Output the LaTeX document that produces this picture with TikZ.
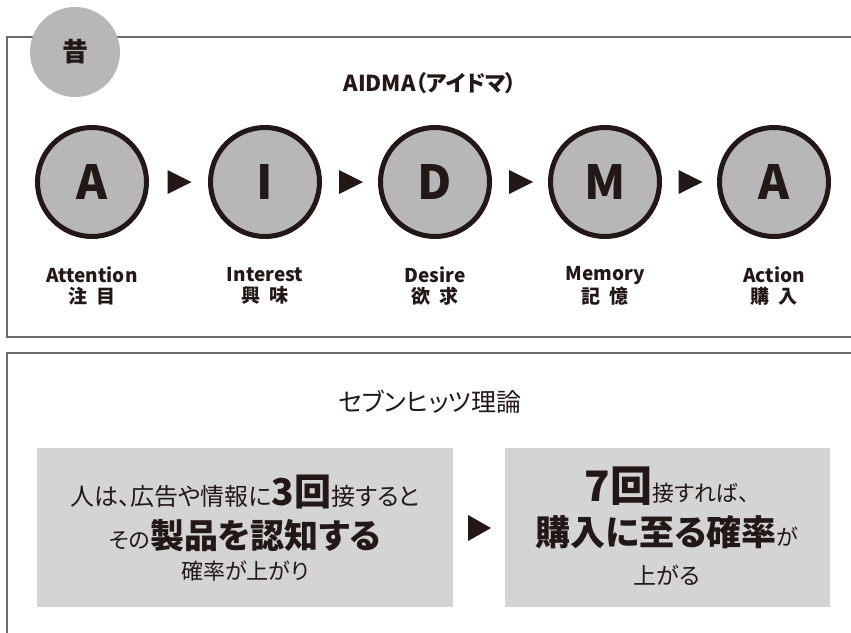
\documentclass[tikz,border=0pt]{standalone}
\usepackage{fontspec}
\setmainfont{Noto Sans CJK JP}
\newfontfamily\pfont[RawFeature=+palt]{Noto Sans CJK JP}
\usetikzlibrary{calc}
\definecolor{ink}{HTML}{231815}
\definecolor{cgray}{HTML}{B7B7B7}
\definecolor{bgray}{HTML}{D4D4D4}
\definecolor{lgray}{HTML}{6A6A6A}
\newcommand{\fsz}[1]{\fontsize{#1}{#1}\selectfont}
\begin{document}
\begin{tikzpicture}[x=1pt,y=-1pt,
  stage/.style={circle,draw=ink,line width=5pt,fill=cgray,minimum size=109pt,inner sep=0pt,
    font=\bfseries\fsz{47},text=ink},
  boxline/.style={draw=lgray,line width=1.4pt},
  lab/.style={font=\bfseries\fsz{19},text=ink,align=center,inner sep=0pt},
  txt/.style={text=ink,inner sep=0pt,anchor=base},
  graybox/.style={fill=bgray,draw=none,inner sep=0pt}]
\useasboundingbox (0,0) rectangle (851,632);
\fill[white] (0,0) rectangle (851,632);
% top box
\draw[boxline] (851,37) -- (7,37) -- (7,337) -- (851,337);
\node[circle,fill=cgray,minimum size=90pt,inner sep=0pt,font=\bfseries\fsz{26},text=ink] (old) at (75,52) {昔};
\node[txt,font=\bfseries\fsz{22}\pfont] (t1) at (430,91) {AIDMA（アイドマ）};
% stages
\node[stage] (s1) at (92,182) {A};
\node[stage] (s2) at (265,182) {I};
\node[stage] (s3) at (435,182) {D};
\node[stage] (s4) at (605,182) {M};
\node[stage] (s5) at (774,182) {A};
\foreach \a/\b in {s1/s2,s2/s3,s3/s4,s4/s5}{
  \coordinate (m) at ($(\a.east)!0.5!(\b.west)$);
  \fill[ink] ($(m)+(-11,-12)$) -- ($(m)+(13,0)$) -- ($(m)+(-11,12)$) -- cycle;
}
\node[lab] (l1) at (92,286) {Attention\\[2pt]注\hspace{9pt}目};
\node[lab] (l2) at (265,286) {Interest\\[2pt]興\hspace{9pt}味};
\node[lab] (l3) at (435,286) {Desire\\[2pt]欲\hspace{9pt}求};
\node[lab] (l4) at (605,286) {Memory\\[2pt]記\hspace{9pt}憶};
\node[lab] (l5) at (774,286) {Action\\[2pt]購\hspace{9pt}入};
% bottom box
\draw[boxline] (851,353) -- (7,353) -- (7,633);
\node[txt,font=\fsz{25}\pfont] (t2) at (430,411) {セブンヒッツ理論};
\path[graybox] (37,448) rectangle (453,607);
\path[graybox] (505,448) rectangle (830,607);
\coordinate (lb) at (453,528);
\coordinate (rb) at (505,528);
\coordinate (mm) at ($(lb)!0.5!(rb)$);
\fill[ink] ($(mm)+(-11,-13)$) -- ($(mm)+(12,0)$) -- ($(mm)+(-11,13)$) -- cycle;
% left box text
\node[txt,font=\pfont] (a1) at (245,505) {\fsz{24}人は、広告や情報に{\bfseries\fsz{37}3回}接すると};
\node[txt,font=\pfont] (a2) at (245,548) {\fsz{22}その{\bfseries\fsz{34}製品を認知する}};
\node[txt,font=\pfont] (a3) at (245,579) {\fsz{22}確率が上がり};
% right box text
\node[txt,font=\pfont] (b1) at (667,501) {{\bfseries\fsz{42}7回}\fsz{22}接すれば、};
\node[txt,font=\pfont] (b2) at (667,545) {{\bfseries\fsz{35}購入に至る確率}\fsz{22}が};
\node[txt,font=\pfont] (b3) at (667,584) {\fsz{23}上がる};
\end{tikzpicture}
\end{document}
